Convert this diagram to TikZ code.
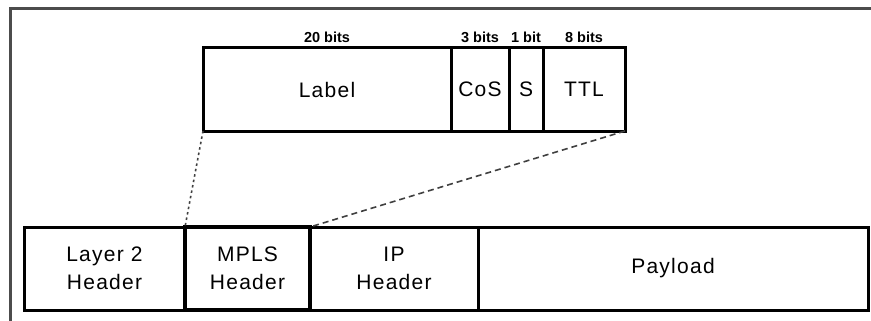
\documentclass[tikz,border=0pt]{standalone}
\usepackage{fontspec}
\setmainfont{Liberation Sans}
\newfontfamily\fieldfont[LetterSpace=6]{Liberation Sans}
\usepackage{tikz}
\usetikzlibrary{positioning}
\tikzset{
  field/.style={draw=black, line width=3pt, outer sep=0pt, inner sep=0pt, anchor=north west,
                minimum height=83pt, align=center, font=\fontsize{21}{28}\selectfont\fieldfont},
  bitlab/.style={font=\fontsize{14.5}{15}\selectfont\bfseries, inner sep=1pt},
  zoomline/.style={black!75, line width=1.6pt},
}
\begin{document}
\begin{tikzpicture}[x=1pt,y=-1pt]
  \useasboundingbox (0,0) rectangle (871,321);
  % frame, only top and left edges show
  \draw[black!70, line width=3pt] (10,321) -- (10,9) -- (871,9);
  % MPLS shim header fields
  \node[field, minimum width=248pt] (lbl)  at (203,48) {Label};
  \node[field, minimum width=58pt]  (cos)  at (451,48) {CoS};
  \node[field, minimum width=34pt]  (sbit) at (509,48) {S};
  \node[field, minimum width=82pt]  (ttl)  at (543,48) {TTL};
  % field sizes
  \node[bitlab, above=4pt of lbl]  {20 bits};
  \node[bitlab, above=4pt of cos]  {3 bits};
  \node[bitlab, above=4pt of sbit] {1 bit};
  \node[bitlab, above=4pt of ttl]  {8 bits};
  % frame layout
  \node[field, minimum width=161pt] (l2)      at (24,227)  {Layer 2\\Header};
  \node[field, minimum width=168pt] (ip)      at (310,227) {IP\\Header};
  \node[field, minimum width=390pt] (payload) at (478,227) {Payload};
  \node[field, minimum width=125pt, line width=4pt] (mpls) at (185,227) {MPLS\\Header};
  % zoom connectors
  \draw[zoomline, dash pattern=on 2.5pt off 3pt] (lbl.south west) -- (mpls.north west);
  \draw[zoomline, dash pattern=on 6pt off 4pt] (ttl.south east) -- (mpls.north east);
\end{tikzpicture}
\end{document}
